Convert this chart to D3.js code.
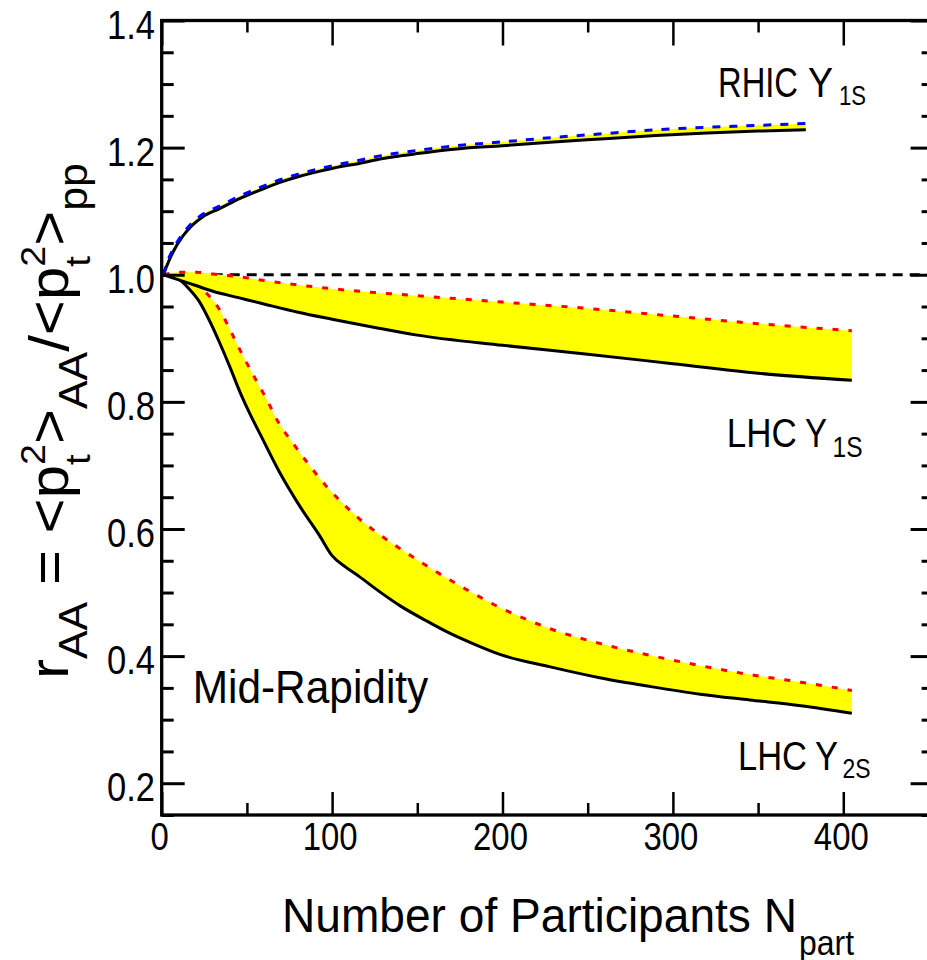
<!DOCTYPE html>
<html><head><meta charset="utf-8">
<script src="https://cdn.jsdelivr.net/npm/d3@7"></script>
<style>
body{margin:0;background:#fff}
svg{display:block}
text{font-family:"Liberation Sans",Arial,Helvetica,sans-serif;fill:#000}
</style>
</head><body>
<svg id="c" width="927" height="960"></svg>
<script>
// ---------- data ----------
const yTicks = [0.2, 0.4, 0.6, 0.8, 1.0, 1.2, 1.4];
const yTickLabels = ["0.2", "0.4", "0.6", "0.8", "1.0", "1.2", "1.4"];
const xTicks = [0, 100, 200, 300, 400];
const xTickLabels = ["0", "100", "200", "300", "400"];

// RHIC Upsilon(1S): black lower edge, blue dashed upper edge
const rhicN    = [1, 3, 6.5, 12.5, 18, 24, 34, 46, 57.5, 69, 81, 93, 104.5, 116, 128, 140, 151.5, 163, 173, 200, 230, 260, 290, 320, 350, 378];
const rhicLow  = [1.000, 1.014, 1.035, 1.061, 1.078, 1.091, 1.104, 1.120, 1.133, 1.145, 1.155, 1.163, 1.170, 1.175, 1.182, 1.187, 1.191, 1.195, 1.198, 1.203, 1.209, 1.214, 1.219, 1.223, 1.226, 1.228];
const rhicHigh = [1.000, 1.018, 1.039, 1.065, 1.082, 1.095, 1.108, 1.124, 1.137, 1.149, 1.159, 1.167, 1.174, 1.180, 1.187, 1.192, 1.196, 1.200, 1.203, 1.209, 1.216, 1.222, 1.228, 1.232, 1.235, 1.238];

// LHC Upsilon(1S): black lower edge, red dashed upper edge
const lhc1N    = [1, 10, 20, 30, 45, 60, 80, 100, 125, 150, 200, 250, 300, 350, 405];
const lhc1Low  = [1.000, 0.992, 0.983, 0.974, 0.964, 0.954, 0.941, 0.930, 0.917, 0.905, 0.889, 0.875, 0.860, 0.845, 0.834];
const lhc1High = [1.000, 1.004, 1.004, 1.001, 0.997, 0.991, 0.984, 0.978, 0.972, 0.967, 0.957, 0.947, 0.935, 0.923, 0.912];

// LHC Upsilon(2S): black lower edge, red dashed upper edge
const lhc2LowN  = [1, 10, 16, 22, 28, 34, 40, 46, 52, 58, 69, 81, 93, 100, 108, 116, 128, 140, 155, 169, 184, 198, 228, 257, 287, 316, 345, 375, 405];
const lhc2Low   = [1.000, 0.993, 0.978, 0.958, 0.928, 0.893, 0.855, 0.815, 0.780, 0.748, 0.690, 0.636, 0.588, 0.558, 0.540, 0.525, 0.501, 0.479, 0.456, 0.436, 0.418, 0.403, 0.383, 0.366, 0.352, 0.340, 0.331, 0.322, 0.310];
const lhc2HighN = [1, 10, 16, 22, 28, 34, 40, 47, 55, 62, 68, 77, 87, 97, 106, 116, 128, 140, 155, 169, 184, 198, 213, 228, 257, 287, 316, 345, 375, 405];
const lhc2High  = [1.000, 0.998, 0.992, 0.982, 0.966, 0.945, 0.914, 0.876, 0.836, 0.802, 0.770, 0.735, 0.699, 0.666, 0.641, 0.616, 0.591, 0.569, 0.543, 0.520, 0.497, 0.477, 0.459, 0.443, 0.420, 0.401, 0.385, 0.371, 0.359, 0.346];

// ---------- chart ----------
const svg = d3.select("#c");
const x = d3.scaleLinear().domain([0, 453]).range([161.7, 933.6]);
const y = d3.scaleLinear().domain([0.15, 1.4]).range([815, 20.5]);

function interp(ns, vs) {
  return n => {
    if (n <= ns[0]) return vs[0];
    for (let i = 1; i < ns.length; i++) {
      if (n <= ns[i]) { const t = (n - ns[i-1]) / (ns[i] - ns[i-1]); return vs[i-1] + t * (vs[i] - vs[i-1]); }
    }
    return vs[vs.length - 1];
  };
}

// reference dashed line at 1.0
svg.append("line")
  .attr("x1", x(0)).attr("x2", x(453))
  .attr("y1", y(1.0)).attr("y2", y(1.0))
  .attr("stroke", "#000").attr("stroke-width", 3).attr("stroke-dasharray", "10,7");

const curve = d3.curveMonotoneX;
function band(nLow, low, nHigh, high, dashColor, dashArr) {
  const grid = Array.from(new Set(nLow.concat(nHigh))).sort((a, b) => a - b);
  const fl = interp(nLow, low), fh = interp(nHigh, high);
  const rows = grid.map(n => ({n, lo: fl(n), hi: fh(n)}));
  svg.append("path").datum(rows)
    .attr("d", d3.area().x(d => x(d.n)).y0(d => y(d.lo)).y1(d => y(d.hi)).curve(curve))
    .attr("fill", "#ffff00").attr("stroke", "none");
  svg.append("path").datum(nLow.map((n, i) => [n, low[i]]))
    .attr("d", d3.line().x(d => x(d[0])).y(d => y(d[1])).curve(curve))
    .attr("fill", "none").attr("stroke", "#000").attr("stroke-width", 3);
  svg.append("path").datum(nHigh.map((n, i) => [n, high[i]]))
    .attr("d", d3.line().x(d => x(d[0])).y(d => y(d[1])).curve(curve))
    .attr("fill", "none").attr("stroke", dashColor).attr("stroke-width", 3)
    .attr("stroke-dasharray", dashArr);
}
band(lhc2LowN, lhc2Low, lhc2HighN, lhc2High, "#ff0000", "6,10");
band(lhc1N, lhc1Low, lhc1N, lhc1High, "#ff0000", "6,10");
band(rhicN, rhicLow, rhicN, rhicHigh, "#0000ff", "8,9");

// ---------- frame and ticks ----------
const yMinor = d3.range(3, 29).filter(i => i % 4 !== 0).map(i => i * 0.05);
const xMinor = [50, 150, 250, 350];
function tickAxis(axis, tr, size, sw) {
  const g = svg.append("g").attr("transform", tr).call(axis.tickSize(size).tickFormat(""));
  g.select(".domain").remove();
  g.selectAll(".tick line").attr("stroke", "#000").attr("stroke-width", sw);
}
tickAxis(d3.axisLeft(y).tickValues(yTicks), `translate(${x(0)},0)`, -23, 3);
tickAxis(d3.axisLeft(y).tickValues(yMinor), `translate(${x(0)},0)`, -12, 3);
tickAxis(d3.axisRight(y).tickValues(yTicks), `translate(${x(453)},0)`, -23, 3);
tickAxis(d3.axisRight(y).tickValues(yMinor), `translate(${x(453)},0)`, -12, 3);
tickAxis(d3.axisBottom(x).tickValues(xTicks), `translate(0,${y(0.15)})`, -23, 2.5);
tickAxis(d3.axisBottom(x).tickValues(xMinor), `translate(0,${y(0.15)})`, -12, 2.5);
tickAxis(d3.axisTop(x).tickValues(xTicks), `translate(0,${y(1.4)})`, -25, 2.5);
tickAxis(d3.axisTop(x).tickValues(xMinor), `translate(0,${y(1.4)})`, -12, 2.5);

svg.append("rect")
  .attr("x", x(0)).attr("y", y(1.4))
  .attr("width", x(453) - x(0)).attr("height", y(0.15) - y(1.4))
  .attr("fill", "none").attr("stroke", "#000").attr("stroke-width", 3.3);

// ---------- text ----------
function label(str, x0, y0, size, width) {
  return svg.append("text").attr("x", x0).attr("y", y0).attr("font-size", size)
    .attr("textLength", width).attr("lengthAdjust", "spacingAndGlyphs").text(str);
}
yTicks.forEach((v, i) => {
  const w = 48;
  label(yTickLabels[i], 155 - w, y(v) + 18, 40, w);
});
xTicks.forEach((v, i) => {
  const w = xTickLabels[i].length * 18.3;
  label(xTickLabels[i], x(v) - 2 - w / 2, 850, 39, w);
});

// x-axis title
label("Number of Participants N", 282, 931.7, 49, 515);
label("part", 799, 955, 35, 55);

// curve labels
label("RHIC", 718, 96.7, 42, 80);
label("\u03A5", 808, 96.7, 42, 25);
label("1S", 839, 105, 28, 27);

label("LHC", 726.7, 447, 41, 70);
label("\u03A5", 805, 447, 41, 22);
label("1S", 832.5, 457, 29, 30);

label("LHC", 738, 770, 40, 69);
label("\u03A5", 815, 770, 40, 23);
label("2S", 842.5, 778, 28, 28);

label("Mid-Rapidity", 192.7, 703, 45.5, 235.6);

// y-axis title (rotated)
const yg = svg.append("g");
const yt = yg.append("text").attr("x", 0).attr("y", 0);
const parts = [
  {t: "r", s: 56, dy: 0},
  {t: "AA", s: 40, dy: 19},
  {t: " = <p", s: 56, dy: -19},
  {t: "t", s: 36, dy: 22},
  {t: "2", s: 35, dy: -45, dx: -10},
  {t: ">", s: 56, dy: 23},
  {t: "AA", s: 40, dy: 19},
  {t: "/<p", s: 56, dy: -19},
  {t: "t", s: 36, dy: 22},
  {t: "2", s: 35, dy: -45, dx: -10},
  {t: ">", s: 56, dy: 23},
  {t: "pp", s: 40, dy: 19}
];
parts.forEach(p => {
  const ts = yt.append("tspan").attr("font-size", p.s).attr("dy", p.dy).text(p.t);
  if (p.dx) ts.attr("dx", p.dx);
});
yt.style("white-space", "pre");
const bw = yt.node().getBBox().width;
const sx = 516 / bw;
yg.attr("transform", `translate(68,679) rotate(-90) scale(${sx},1)`);
</script>
</body></html>
